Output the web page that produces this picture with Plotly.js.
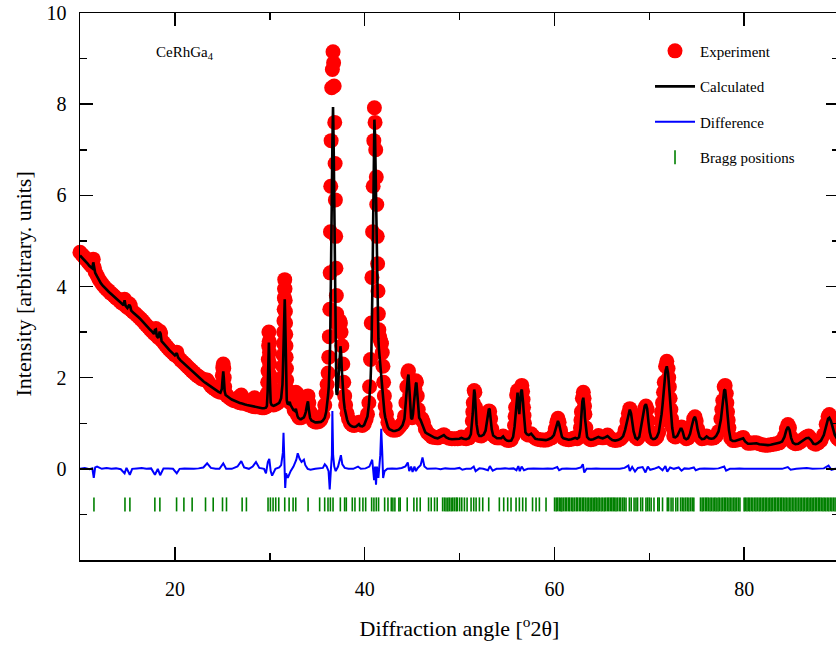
<!DOCTYPE html>
<html>
<head>
<meta charset="utf-8">
<script src="https://cdn.plot.ly/plotly-3.0.1.min.js"></script>
<style>
html,body{margin:0;padding:0;background:#fff;overflow:hidden;}
#chart{width:845px;height:646px;}
</style>
</head>
<body>
<div id="chart"></div>
<script>
// Diffraction angle (deg 2theta) shared by the observed and calculated patterns
const angle = [
10.00,10.20,10.40,10.60,10.80,11.00,11.20,11.30,11.40,11.50,11.60,11.80,12.00,12.20,12.40,12.60,12.80,13.00,13.20,13.40,13.60,13.80,14.00,14.20,14.40,14.60,14.70,14.80,15.00,15.20,15.30,15.40,15.60,15.80,16.00,16.20,16.40,16.60,16.80,17.00,17.20,17.40,17.60,17.80,17.90,18.00,
18.10,18.25,18.40,18.50,18.60,18.80,19.00,19.20,19.40,19.60,19.80,20.00,20.20,20.35,20.60,20.80,21.00,21.20,21.40,21.60,21.80,22.00,22.20,22.40,22.60,22.80,23.00,23.20,23.40,23.60,23.80,24.00,24.20,24.40,24.60,24.80,24.95,25.00,25.05,25.10,25.15,25.20,25.25,25.35,25.50,25.80,26.00,26.20,26.40,26.60,26.70,26.80,26.90,27.00,27.10,27.20,27.40,27.60,27.80,28.00,28.10,28.20,28.30,28.40,28.50,28.60,28.80,29.00,29.20,29.40,29.60,
29.70,29.74,29.78,29.82,29.85,29.88,29.91,29.94,29.97,30.00,30.03,30.06,30.10,
30.20,30.40,30.60,30.80,31.00,31.20,
31.30,31.34,31.38,31.41,31.44,31.47,31.50,31.52,31.54,31.56,31.58,31.61,31.63,31.65,31.67,31.69,31.71,31.73,31.76,31.79,31.83,31.88,
32.00,32.10,32.20,32.35,32.50,32.58,32.65,32.75,32.85,32.92,33.00,33.10,33.20,33.30,33.40,33.50,33.60,33.70,33.80,33.95,34.03,34.12,34.25,34.40,34.60,34.80,35.00,35.20,35.40,35.60,35.80,35.95,
36.05,36.15,36.22,36.28,36.33,36.37,36.40,36.43,36.47,36.53,36.60,36.67,36.73,36.79,36.85,36.89,36.92,36.95,36.98,37.02,37.06,37.12,37.20,37.30,37.38,37.45,37.52,37.60,37.70,37.80,37.90,38.00,38.15,38.30,38.50,38.70,38.90,39.10,39.30,39.40,39.55,39.75,39.95,40.15,40.30,40.45,
40.52,40.62,40.70,40.77,40.84,40.90,40.97,41.03,41.10,41.17,41.23,41.28,41.33,41.37,41.41,41.45,41.50,41.56,41.62,41.70,41.78,41.86,41.93,42.00,42.08,42.17,42.30,42.45,42.60,42.80,43.00,43.20,43.40,43.60,43.80,44.00,
44.20,44.35,44.45,44.55,44.62,44.70,44.75,44.80,44.90,45.00,45.10,45.20,45.30,45.40,45.46,45.55,45.65,45.75,45.90,46.05,46.20,46.40,46.60,46.85,47.10,47.40,47.70,47.90,48.10,48.35,48.60,48.90,49.20,49.50,49.80,50.00,50.20,50.40,50.70,51.00,
51.20,51.35,51.40,51.45,51.55,51.62,51.70,51.75,51.80,51.95,52.10,52.30,52.55,52.75,52.90,53.00,53.10,53.18,53.28,53.40,53.55,53.75,53.95,54.15,54.40,54.60,54.80,55.00,55.20,55.45,55.65,55.80,55.86,55.92,56.02,56.12,56.22,56.30,56.38,56.47,56.57,56.65,56.70,56.75,56.80,56.85,56.95,57.10,57.30,57.55,57.75,58.00,58.25,58.50,58.80,59.10,59.40,59.70,59.95,60.10,60.25,60.38,60.50,60.65,60.80,60.95,
61.20,61.50,61.80,62.00,62.20,62.40,62.60,62.75,62.80,62.85,62.95,63.05,63.13,63.18,63.22,63.32,63.45,63.65,63.85,64.10,64.40,64.65,64.85,65.10,65.35,65.60,65.85,66.10,66.40,66.70,67.00,67.25,67.45,67.65,67.80,67.95,68.08,68.20,68.35,68.55,68.75,68.95,69.15,69.35,69.52,69.65,69.78,69.92,70.05,70.20,70.40,70.60,70.80,
71.00,71.20,71.30,71.40,71.50,71.58,71.72,71.85,71.98,72.05,72.12,72.20,72.28,72.35,72.42,72.58,72.75,72.95,73.15,73.30,73.40,73.52,73.70,73.90,74.10,74.30,74.50,74.68,74.82,74.95,75.10,75.30,75.55,75.80,76.05,76.30,76.55,76.80,77.05,77.30,77.55,77.65,77.75,77.90,78.00,78.12,78.18,78.25,78.32,78.40,78.58,78.80,79.05,79.40,79.70,79.90,
80.10,80.40,80.70,81.00,81.30,81.60,81.90,82.20,82.50,82.80,83.10,83.40,83.70,84.00,84.25,84.45,84.62,84.78,84.95,85.15,85.40,85.70,86.00,86.30,86.55,86.80,87.05,87.30,87.55,87.80,88.10,88.40,88.65,88.85,88.98,89.15,89.35,89.55,89.80,90.00
];

// Observed intensity (arbitrary units)
const yObs = [
4.75,4.70,4.66,4.60,4.55,4.50,4.45,4.47,4.60,4.42,4.32,4.24,4.16,4.10,4.04,3.99,3.94,3.91,3.86,3.83,3.79,3.75,3.72,3.68,3.64,3.62,3.72,3.58,3.54,3.62,3.58,3.48,3.44,3.41,3.37,3.33,3.29,3.25,3.20,3.15,3.11,3.06,3.02,2.97,3.05,3.08,
2.92,2.88,3.02,2.98,2.82,2.77,2.72,2.67,2.62,2.58,2.54,2.50,2.56,2.45,2.39,2.35,2.31,2.27,2.23,2.19,2.15,2.11,2.07,2.04,2.01,1.98,1.96,1.95,1.95,1.88,1.82,1.78,1.75,1.72,1.70,1.68,1.85,2.05,2.22,2.30,2.20,2.00,1.80,1.65,1.60,1.55,1.52,1.50,1.49,1.50,1.46,1.58,1.45,1.62,1.44,1.55,1.46,1.42,1.40,1.42,1.38,1.50,1.37,1.56,1.36,1.52,1.40,1.35,1.34,1.34,1.36,
1.45,1.65,1.90,2.15,2.40,2.70,3.00,2.80,2.55,2.30,2.05,1.85,1.62,
1.45,1.40,1.42,1.44,1.48,1.60,
1.75,2.00,2.25,2.50,2.75,3.00,3.25,3.50,3.75,3.95,4.15,3.95,3.70,3.45,3.20,2.95,2.70,2.45,2.20,1.95,1.75,1.60,
1.48,1.50,1.45,1.42,1.50,1.28,1.62,1.68,1.65,1.18,1.62,1.12,1.55,1.12,1.48,1.15,1.45,1.20,1.50,1.58,1.60,1.45,1.25,1.12,1.05,1.03,1.03,1.04,1.08,1.18,1.40,1.65,
1.85,2.10,2.45,2.90,3.50,4.30,5.20,6.20,7.20,8.36,8.76,9.15,8.91,8.40,7.60,6.70,5.90,5.10,4.40,3.80,3.40,3.20,3.15,3.20,3.25,3.20,3.00,2.70,2.30,1.90,1.60,1.40,1.22,1.10,1.00,0.96,0.95,0.97,1.00,1.02,0.97,0.95,0.98,1.08,1.20,1.45,
1.80,2.40,3.20,4.20,5.20,6.20,7.20,7.92,7.60,7.00,6.40,5.80,5.10,4.50,3.90,3.40,3.05,2.90,2.85,2.80,2.75,2.55,2.25,1.90,1.60,1.38,1.20,1.02,0.92,0.87,0.85,0.85,0.86,0.90,0.95,1.00,
1.15,1.45,1.80,2.10,2.15,1.85,1.62,1.40,1.15,1.12,1.25,1.50,1.75,1.93,1.90,1.60,1.30,1.15,1.10,1.10,1.02,0.88,0.80,0.75,0.70,0.69,0.68,0.70,0.72,0.75,0.70,0.67,0.66,0.66,0.66,0.67,0.70,0.67,0.66,0.68,
0.78,1.05,1.25,1.45,1.72,1.68,1.35,1.17,1.00,0.80,0.73,0.72,0.76,0.85,1.05,1.22,1.27,1.26,1.10,0.88,0.74,0.70,0.68,0.68,0.68,0.72,0.66,0.63,0.62,0.64,0.72,0.95,1.15,1.35,1.62,1.72,1.50,1.35,1.50,1.75,1.83,1.70,1.52,1.35,1.17,1.00,0.82,0.76,0.74,0.77,0.72,0.67,0.65,0.64,0.63,0.63,0.65,0.68,0.75,0.88,1.02,1.11,1.02,0.85,0.72,0.67,
0.65,0.64,0.65,0.67,0.68,0.66,0.70,0.90,1.07,1.25,1.55,1.68,1.55,1.38,1.20,0.90,0.72,0.66,0.64,0.65,0.68,0.73,0.70,0.68,0.70,0.74,0.68,0.64,0.62,0.63,0.66,0.72,0.85,1.05,1.22,1.32,1.25,1.05,0.85,0.70,0.66,0.72,0.90,1.15,1.32,1.38,1.30,1.05,0.82,0.70,0.66,0.66,0.70,
0.80,1.05,1.25,1.45,1.68,1.90,2.25,2.36,2.20,2.00,1.80,1.55,1.30,1.10,0.92,0.72,0.70,0.72,0.80,0.90,0.92,0.85,0.70,0.66,0.68,0.78,0.95,1.10,1.14,1.05,0.88,0.72,0.66,0.67,0.72,0.68,0.67,0.68,0.72,0.82,1.10,1.30,1.50,1.80,1.83,1.65,1.45,1.25,1.07,0.90,0.68,0.62,0.62,0.64,0.67,0.69,
0.62,0.56,0.56,0.57,0.57,0.55,0.53,0.52,0.52,0.53,0.54,0.55,0.57,0.62,0.72,0.88,0.97,0.90,0.70,0.58,0.55,0.56,0.60,0.66,0.70,0.72,0.66,0.56,0.54,0.57,0.62,0.75,0.98,1.15,1.19,1.10,0.92,0.78,0.68,0.64
];

// Calculated intensity
const yCalc = [
4.68,4.64,4.59,4.55,4.50,4.45,4.41,4.40,4.53,4.36,4.30,4.22,4.13,4.07,4.02,3.97,3.93,3.89,3.85,3.81,3.78,3.74,3.70,3.66,3.62,3.59,3.70,3.58,3.53,3.60,3.56,3.47,3.43,3.40,3.36,3.32,3.28,3.23,3.19,3.14,3.10,3.05,3.01,2.96,3.05,3.06,
2.91,2.87,3.01,2.96,2.80,2.76,2.71,2.66,2.61,2.57,2.53,2.49,2.54,2.44,2.38,2.34,2.30,2.26,2.22,2.18,2.14,2.10,2.06,2.03,1.99,1.96,1.92,1.89,1.86,1.84,1.80,1.77,1.74,1.71,1.69,1.67,1.75,1.90,2.05,2.14,2.02,1.85,1.70,1.62,1.59,1.55,1.52,1.50,1.48,1.46,1.46,1.45,1.44,1.44,1.43,1.42,1.41,1.40,1.39,1.38,1.38,1.37,1.37,1.36,1.36,1.35,1.34,1.34,1.33,1.33,1.34,
1.38,1.48,1.70,2.05,2.40,2.70,2.77,2.55,2.20,1.90,1.70,1.55,1.45,
1.40,1.38,1.40,1.42,1.45,1.55,
1.70,1.85,2.10,2.35,2.65,2.95,3.25,3.45,3.60,3.68,3.72,3.50,3.20,2.90,2.60,2.30,2.05,1.85,1.65,1.52,1.46,1.43,
1.42,1.47,1.40,1.33,1.29,1.28,1.27,1.32,1.20,1.16,1.12,1.10,1.09,1.09,1.10,1.11,1.13,1.18,1.25,1.42,1.48,1.30,1.12,1.06,1.04,1.02,1.02,1.02,1.03,1.06,1.12,1.25,
1.40,1.62,1.80,2.05,2.40,2.80,3.20,3.70,4.50,5.70,7.10,7.94,7.20,5.80,4.30,3.30,2.70,2.20,1.90,1.70,1.62,1.65,1.85,2.10,2.45,2.69,2.55,2.15,1.75,1.50,1.32,1.20,1.08,1.00,0.95,0.93,0.92,0.93,0.96,0.98,0.94,0.93,0.96,1.05,1.15,1.40,
1.55,1.90,2.40,3.10,4.20,5.40,6.80,7.66,7.30,6.20,5.20,4.60,4.00,3.50,3.10,2.85,2.65,2.50,2.30,2.05,1.85,1.65,1.50,1.38,1.25,1.13,1.02,0.92,0.87,0.84,0.83,0.83,0.84,0.86,0.90,0.96,
1.10,1.40,1.75,2.00,2.07,1.80,1.57,1.35,1.12,1.09,1.20,1.45,1.70,1.87,1.89,1.60,1.28,1.12,1.07,0.98,0.88,0.80,0.77,0.74,0.70,0.68,0.67,0.69,0.71,0.74,0.69,0.66,0.65,0.65,0.65,0.66,0.68,0.66,0.65,0.67,
0.76,1.02,1.22,1.42,1.74,1.65,1.30,1.14,0.98,0.78,0.72,0.72,0.75,0.84,1.03,1.22,1.32,1.30,1.08,0.86,0.73,0.70,0.67,0.67,0.67,0.71,0.65,0.62,0.61,0.62,0.70,0.92,1.10,1.30,1.58,1.67,1.40,1.20,1.42,1.68,1.74,1.62,1.46,1.30,1.14,0.98,0.80,0.76,0.74,0.77,0.71,0.66,0.65,0.64,0.63,0.63,0.65,0.68,0.74,0.86,1.00,1.05,0.98,0.82,0.70,0.67,
0.65,0.64,0.65,0.67,0.68,0.66,0.69,0.88,1.04,1.20,1.48,1.56,1.45,1.29,1.12,0.85,0.70,0.65,0.64,0.65,0.67,0.70,0.68,0.67,0.69,0.72,0.67,0.63,0.62,0.63,0.66,0.72,0.85,1.05,1.22,1.30,1.22,1.02,0.82,0.68,0.65,0.70,0.92,1.18,1.38,1.42,1.32,1.02,0.80,0.68,0.65,0.66,0.70,
0.80,1.02,1.20,1.40,1.62,1.85,2.15,2.25,2.10,1.92,1.72,1.48,1.25,1.07,0.90,0.70,0.69,0.72,0.80,0.88,0.88,0.82,0.68,0.65,0.67,0.77,0.95,1.10,1.14,1.05,0.86,0.70,0.65,0.66,0.71,0.67,0.66,0.67,0.72,0.82,1.08,1.26,1.45,1.72,1.74,1.55,1.38,1.20,1.02,0.85,0.64,0.61,0.61,0.63,0.66,0.67,
0.60,0.55,0.55,0.56,0.56,0.54,0.53,0.52,0.52,0.53,0.54,0.55,0.57,0.60,0.70,0.85,0.92,0.86,0.68,0.57,0.54,0.55,0.59,0.64,0.67,0.68,0.63,0.55,0.54,0.57,0.62,0.74,0.95,1.10,1.12,1.05,0.90,0.75,0.66,0.63
];

// Difference curve (observed - calculated)
const diffAngle = [
10.0,10.5,11.0,11.3,11.45,11.6,11.8,12.3,12.8,13.3,13.8,14.3,14.7,14.9,15.25,15.5,16.0,16.5,17.0,17.5,17.9,18.2,18.45,18.8,19.3,19.8,
20.2,20.5,21.0,21.5,22.0,22.5,23.0,23.4,23.8,24.3,24.7,25.1,25.4,26.0,26.6,27.0,27.3,27.8,28.2,28.55,28.9,29.4,29.6,29.8,29.95,30.1,30.25,30.6,
31.0,31.2,31.38,31.45,31.55,31.63,31.72,31.9,32.2,32.5,32.8,32.95,33.15,33.35,33.6,33.75,34.0,34.3,34.8,35.3,35.6,35.8,36.0,36.2,36.32,36.45,36.55,36.6,36.68,36.8,36.95,37.2,37.4,37.5,37.65,37.9,38.3,38.8,
39.3,39.6,40.1,40.5,40.8,40.9,41.0,41.1,41.2,41.3,41.45,41.65,41.75,41.85,41.95,42.1,42.4,42.9,43.4,43.9,44.3,44.55,44.7,44.9,45.05,45.25,45.4,45.6,45.9,46.1,46.3,46.6,
47.0,47.5,48.0,48.5,49.0,49.5,50.0,50.3,50.7,51.2,51.5,51.7,52.1,52.5,53.0,53.2,53.5,53.9,54.3,54.8,55.2,55.7,56.0,56.2,56.35,56.55,56.8,57.2,57.8,58.3,58.8,59.3,59.8,60.3,60.5,60.8,61.3,61.8,62.3,62.8,63.0,63.15,63.4,63.9,64.4,64.9,65.4,65.9,66.4,66.9,67.4,67.8,67.95,68.2,68.5,68.8,69.3,69.6,69.85,70.1,70.5,
71.0,71.4,71.7,71.9,72.2,72.6,73.1,73.4,73.7,74.2,74.7,74.9,75.3,75.8,76.3,76.8,77.3,77.9,78.1,78.5,79.0,79.5,80.0,80.5,81.0,81.5,82.0,82.5,83.0,83.5,84.0,84.6,84.9,85.5,86.0,86.6,87.2,87.8,88.4,88.9,89.2,89.6,90.0
];
const yDiff = [
0.00,0.02,-0.01,0.01,-0.20,0.03,0.05,0.00,0.02,0.00,0.01,-0.01,-0.10,0.02,-0.13,0.00,0.01,0.02,0.00,0.01,-0.13,0.00,-0.14,0.01,0.01,0.00,
-0.10,0.00,0.01,0.00,0.00,0.01,0.03,0.12,0.02,0.00,0.00,0.12,0.00,0.00,0.05,0.17,0.03,0.00,0.05,0.15,0.02,0.00,-0.10,0.15,0.22,-0.05,-0.15,0.00,
0.03,0.08,0.35,0.79,0.30,-0.42,-0.10,-0.20,-0.05,0.05,0.20,0.34,0.22,0.15,0.20,0.08,0.00,-0.02,0.00,0.01,0.02,0.10,0.05,-0.05,-0.45,0.00,0.30,1.27,0.30,0.05,-0.05,0.05,0.20,0.30,0.10,0.02,0.00,0.00,
0.05,0.00,0.01,0.05,0.20,-0.05,-0.25,0.05,-0.35,0.05,-0.20,0.30,0.88,0.40,-0.20,-0.05,0.00,0.01,0.00,0.02,0.05,0.14,-0.05,0.05,-0.07,0.05,-0.05,0.02,0.08,0.25,0.05,0.00,
0.00,0.01,-0.01,0.01,0.00,0.00,0.02,-0.02,0.00,0.00,0.05,-0.05,0.01,0.00,-0.03,0.06,-0.04,0.00,0.00,0.01,0.00,0.01,-0.03,0.06,-0.05,0.05,-0.03,0.00,0.01,0.00,0.00,0.01,0.00,0.04,-0.03,0.00,0.01,0.00,0.00,0.03,0.10,-0.08,0.00,0.00,0.01,0.00,0.00,0.01,0.00,0.00,0.02,0.07,-0.05,0.04,-0.06,0.02,0.04,-0.08,0.05,-0.02,0.00,
0.04,-0.03,0.06,-0.06,0.03,0.00,0.03,-0.04,0.01,0.00,0.03,-0.03,0.00,0.01,0.00,0.00,0.01,0.05,-0.04,0.00,0.00,0.01,0.00,0.00,0.01,0.00,0.00,0.00,0.01,0.00,0.00,0.04,-0.02,0.00,0.01,0.02,0.00,0.00,0.01,0.07,-0.02,0.00,0.00
];

// Bragg reflection positions (deg 2theta) and the level at which their ticks are drawn
const braggAngle = [
11.47,14.74,15.26,17.89,18.42,20.18,20.95,21.82,23.23,24.04,25.02,25.44,27.09,27.54,29.82,30.07,30.35,30.63,30.95,31.58,32.04,32.46,32.74,34.04,35.26,35.79,36.14,36.39,36.67,37.44,37.89,38.07,38.70,38.98,39.47,39.82,40.11,40.74,40.98,41.23,41.47,42.11,42.46,42.81,42.98,43.19,43.61,43.75,44.49,45.19,45.51,45.86,46.74,47.02,47.37,47.65,
48.22,48.41,48.58,48.77,48.93,49.12,49.29,49.47,49.66,49.78,50.02,50.24,50.52,50.80,51.22,51.50,51.75,52.10,52.45,53.08,54.20,54.66,55.08,55.43,55.96,56.31,56.66,57.00,57.70,58.07,58.42,59.12,
60.02,60.19,60.33,60.51,60.68,60.80,60.97,61.15,61.30,61.49,61.62,61.81,61.95,62.12,62.31,62.44,62.63,62.78,62.96,63.10,63.28,63.45,63.60,63.77,63.93,64.09,64.26,64.41,64.59,64.73,64.92,65.07,65.25,65.40,65.58,65.73,65.90,66.05,66.21,66.35,
66.50,66.66,66.85,67.00,67.20,67.36,67.55,67.90,68.10,68.40,68.60,68.77,69.10,69.30,69.65,69.82,70.00,70.20,70.50,70.90,71.05,71.40,71.90,72.05,72.30,72.50,72.80,73.00,
73.30,73.48,73.65,73.84,74.02,74.18,74.37,74.55,74.70,75.40,75.57,75.71,75.90,76.06,76.22,76.40,76.55,76.73,76.90,77.05,77.24,77.38,77.57,77.73,77.90,78.06,78.23,78.40,78.55,78.72,78.90,79.05,79.22,79.40,79.56,
80.00,80.14,80.30,80.46,80.60,80.77,80.92,81.10,81.25,81.41,81.58,81.73,81.90,82.05,82.22,82.36,82.53,82.70,82.85,83.01,83.18,83.33,83.50,83.65,83.82,83.97,84.14,84.30,84.45,84.62,84.78,84.93,85.10,85.25,85.42,85.57,85.74,85.90,86.05,86.22,86.37,86.54,86.70,86.85,87.02,87.17,87.33,87.50,87.65,87.82,87.97,88.13,88.30,88.45,88.61,88.78,88.93,89.10,89.25,89.42,89.58,89.73,89.90
];
const braggLevel = -0.78;

const xTickVals = [20, 40, 60, 80];
const xMinorVals = [10, 30, 50, 70, 90];
const yTickVals = [0, 2, 4, 6, 8, 10];
const yMinorVals = [-1, 1, 3, 5, 7, 9];

const FONT = '"Liberation Serif", "Times New Roman", serif';

const traces = [
  {
    x: angle, y: yObs, name: 'Experiment', type: 'scatter', mode: 'markers',
    marker: {color: '#ff0000', size: 15, line: {width: 0}},
    cliponaxis: false, legendgroup: 'a'
  },
  {
    x: angle, y: yCalc, name: 'Calculated', type: 'scatter', mode: 'lines',
    line: {color: '#000000', width: 2.6},
    legendgroup: 'b'
  },
  {
    x: diffAngle, y: yDiff, name: 'Difference', type: 'scatter', mode: 'lines',
    line: {color: '#0000ff', width: 2},
    legendgroup: 'c'
  },
  {
    x: braggAngle, y: braggAngle.map(() => braggLevel), name: 'Bragg positions',
    type: 'scatter', mode: 'markers',
    marker: {symbol: 'line-ns', size: 10, color: '#008000', line: {width: 1.6, color: '#008000'}},
    legendgroup: 'd'
  }
];

const axisCommon = {
  showgrid: false, zeroline: false, showline: true, linecolor: '#000', linewidth: 1.5,
  mirror: 'ticks', ticks: 'inside', ticklen: 13, tickwidth: 1.5, tickcolor: '#000',
  tickfont: {family: FONT, size: 20, color: '#000'}
};

const layout = {
  width: 845, height: 646,
  margin: {l: 80, r: 6, t: 13, b: 86},
  paper_bgcolor: '#fff', plot_bgcolor: '#fff',
  font: {family: FONT, color: '#000'},
  showlegend: true,
  legend: {
    x: 0.751, y: 0.9605, xanchor: 'left', yanchor: 'top',
    bgcolor: 'rgba(0,0,0,0)', borderwidth: 0,
    font: {family: FONT, size: 15, color: '#000'},
    tracegroupgap: 13, itemwidth: 40
  },
  xaxis: Object.assign({}, axisCommon, {
    range: [10, 90], tickmode: 'array', tickvals: xTickVals,
    ticklabelstandoff: 10,
    minor: {tickmode: 'array', tickvals: xMinorVals, ticklen: 7, tickwidth: 1.5, tickcolor: '#000', ticks: 'inside'},
    title: {text: 'Diffraction angle [<sup>o</sup>2θ]', font: {family: FONT, size: 22, color: '#000'}, standoff: 22}
  }),
  yaxis: Object.assign({}, axisCommon, {
    range: [-2, 10], tickmode: 'array', tickvals: yTickVals,
    ticklabelstandoff: 8,
    minor: {tickmode: 'array', tickvals: yMinorVals, ticklen: 7, tickwidth: 1.5, tickcolor: '#000', ticks: 'inside'}
  }),
  annotations: [
    {
      xref: 'paper', yref: 'paper', x: -0.0751, y: 0.5055, xanchor: 'center', yanchor: 'middle',
      text: 'Intensity [arbitrary. units]', textangle: -90, showarrow: false,
      font: {family: FONT, size: 22, color: '#000'}
    },
    {
      xref: 'paper', yref: 'paper', x: 0.138, y: 0.927, xanchor: 'center', yanchor: 'middle',
      text: 'CeRhGa<sub>4</sub>', showarrow: false,
      font: {family: FONT, size: 15, color: '#000'}
    }
  ]
};

Plotly.newPlot('chart', traces, layout, {displayModeBar: false, staticPlot: true});
</script>
</body>
</html>
